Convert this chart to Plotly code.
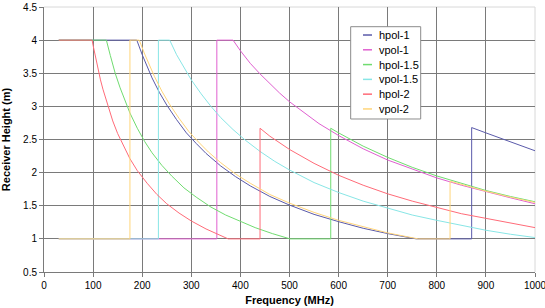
import plotly.graph_objects as go

# ---- data ----
freq_hpol_1 = [30, 189, 200, 210, 220, 235, 250, 270, 290, 310, 330, 360, 390, 420, 460, 500,
               550, 600, 650, 700, 758, 871, 871, 900, 950, 1000]
h_hpol_1 = [4, 4, 3.78, 3.60, 3.43, 3.21, 3.02, 2.80, 2.60, 2.44, 2.29, 2.10, 1.94, 1.80, 1.64, 1.51,
            1.37, 1.26, 1.16, 1.08, 1.00, 1.00, 2.68, 2.60, 2.46, 2.33]

freq_vpol_1 = [30, 352, 352, 385, 400, 420, 440, 460, 480, 500, 530, 560, 600, 650, 700, 750,
               800, 850, 900, 950, 1000]
h_vpol_1 = [1, 1, 4, 4, 3.84, 3.65, 3.49, 3.34, 3.20, 3.07, 2.90, 2.74, 2.56, 2.36, 2.19, 2.05,
            1.92, 1.81, 1.71, 1.62, 1.53]

freq_hpol_15 = [30, 127, 135, 145, 155, 165, 175, 190, 205, 220, 240, 260, 285, 310, 340, 370,
                400, 430, 465, 501, 584, 584, 600, 650, 700, 750, 800, 850, 900, 950, 1000]
h_hpol_15 = [4, 4, 3.77, 3.50, 3.28, 3.08, 2.90, 2.67, 2.47, 2.30, 2.11, 1.95, 1.77, 1.63, 1.48, 1.36,
             1.26, 1.17, 1.08, 1.00, 1.00, 2.67, 2.60, 2.40, 2.23, 2.08, 1.95, 1.84, 1.73, 1.64, 1.56]

freq_vpol_15 = [30, 233, 233, 256, 270, 285, 300, 320, 340, 360, 385, 410, 440, 470, 500, 550,
                600, 650, 700, 750, 800, 850, 900, 950, 1000]
h_vpol_15 = [1, 1, 4, 4, 3.78, 3.58, 3.40, 3.19, 3.00, 2.83, 2.65, 2.49, 2.32, 2.17, 2.04, 1.85,
             1.70, 1.57, 1.46, 1.36, 1.28, 1.20, 1.13, 1.07, 1.02]

freq_hpol_2 = [30, 98, 100, 105, 110, 115, 120, 130, 140, 150, 160, 175, 190, 210, 230, 250, 275,
               300, 330, 355, 375, 440, 440, 460, 500, 550, 600, 650, 700, 750, 800, 850, 900, 950, 1000]
h_hpol_2 = [4, 4, 3.92, 3.73, 3.56, 3.40, 3.26, 3.00, 2.78, 2.59, 2.43, 2.21, 2.03, 1.84, 1.67, 1.53, 1.39,
            1.27, 1.15, 1.06, 1.00, 1.00, 2.67, 2.55, 2.35, 2.14, 1.96, 1.81, 1.68, 1.57, 1.47, 1.38, 1.31, 1.24, 1.17]

freq_vpol_2 = [30, 175, 175, 194, 205, 215, 225, 240, 255, 275, 295, 315, 335, 360, 390, 420, 460,
               500, 550, 600, 650, 700, 762, 827, 827, 850, 900, 950, 1000]
h_vpol_2 = [1, 1, 4, 4, 3.79, 3.61, 3.45, 3.23, 3.04, 2.82, 2.62, 2.46, 2.31, 2.15, 1.98, 1.84, 1.67,
            1.54, 1.40, 1.28, 1.18, 1.09, 1.00, 1.00, 1.87, 1.82, 1.72, 1.63, 1.55]

series_names = ["hpol-1", "vpol-1", "hpol-1.5", "vpol-1.5", "hpol-2", "vpol-2"]
series_x = [freq_hpol_1, freq_vpol_1, freq_hpol_15, freq_vpol_15, freq_hpol_2, freq_vpol_2]
series_y = [h_hpol_1, h_vpol_1, h_hpol_15, h_vpol_15, h_hpol_2, h_vpol_2]
series_colors = ["#5a5aaa", "#e060d0", "#70dc70", "#88e6e6", "#ff6b78", "#ffd57a"]

x_ticks = list(range(0, 1001, 100))
y_ticks = [0.5, 1, 1.5, 2, 2.5, 3, 3.5, 4, 4.5]
y_tick_text = ["0.5", "1", "1.5", "2", "2.5", "3", "3.5", "4", "4.5"]

FONT = "Liberation Sans, Arial, sans-serif"
GRID = "#7a7a7a"

fig = go.Figure()
for name, xs, ys, col in zip(series_names, series_x, series_y, series_colors):
    fig.add_trace(go.Scatter(x=xs, y=ys, mode="lines", name=name, showlegend=False,
                             line=dict(color=col, width=1)))

fig.update_layout(
    width=545, height=308,
    margin=dict(l=44, r=10, t=7, b=36),
    paper_bgcolor="white", plot_bgcolor="white",
    font=dict(family=FONT, size=10, color="black"),
    showlegend=False,
    xaxis=dict(range=[0, 1000], tickvals=x_ticks, showgrid=True, gridcolor=GRID, gridwidth=1,
               showline=True, linecolor=GRID, linewidth=1, ticks="outside", ticklen=4,
               tickcolor=GRID, zeroline=False, automargin=False, ticklabeloverflow="allow",
               title=dict(text="<b>Frequency (MHz)</b>", font=dict(family=FONT, size=11), standoff=6)),
    yaxis=dict(range=[0.5, 4.5], tickvals=y_ticks, ticktext=y_tick_text, showgrid=True,
               gridcolor=GRID, gridwidth=1, showline=True, linecolor=GRID, linewidth=1,
               ticks="outside", ticklen=4, tickcolor=GRID, zeroline=False, automargin=False,
               ticklabeloverflow="allow",
               title=dict(text="<b>Receiver Height (m)</b>", font=dict(family=FONT, size=11), standoff=10)),
)
# light plot-area border at top and right
fig.add_shape(type="line", xref="paper", yref="paper", x0=0, x1=1, y0=1, y1=1,
              line=dict(color="#d8d8d8", width=1), layer="between")
fig.add_shape(type="line", xref="paper", yref="paper", x0=1, x1=1, y0=0, y1=1,
              line=dict(color="#d8d8d8", width=1), layer="between")

# legend box drawn in paper coordinates (compact, like the reference)
fig.add_shape(type="rect", xref="paper", yref="paper", x0=0.6246, x1=0.7672, y0=0.5774, y1=0.9257,
              line=dict(color="#8c8c8c", width=1), fillcolor="white", layer="above")
leg_top, leg_step = 0.8943, 0.0558
for i, (name, col) in enumerate(zip(series_names, series_colors)):
    yy = leg_top - i * leg_step
    fig.add_shape(type="line", xref="paper", yref="paper", x0=0.6497, x1=0.668, y0=yy, y1=yy,
                  line=dict(color=col, width=1.5), layer="above")
    fig.add_annotation(xref="paper", yref="paper", x=0.6772, y=yy, text=name, showarrow=False,
                       xanchor="left", yanchor="middle",
                       font=dict(family=FONT, size=11, color="black"))

fig.write_html("out.html",
               config={"displayModeBar": False},
               post_script="document.body.style.margin='0';document.body.style.overflow='hidden';")
